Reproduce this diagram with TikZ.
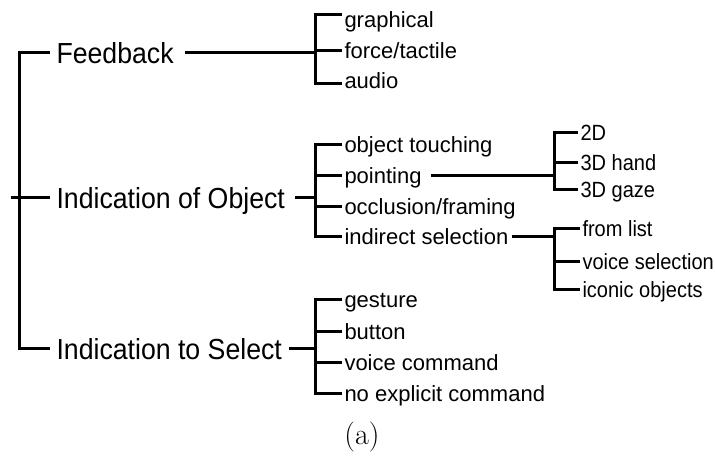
\documentclass[tikz,border=0pt]{standalone}
\usepackage{fontspec}
\newfontfamily\helv{Liberation Sans}
\newfontfamily\helvbig[FakeStretch=0.92]{Liberation Sans}
\newfontfamily\helvnarrow[FakeStretch=0.91]{Liberation Sans}
\begin{document}
\begin{tikzpicture}[x=1pt,y=-1pt,line width=3pt,line join=miter,
  bigtext/.style={font=\helvbig\fontsize{29}{34}\selectfont,inner xsep=5pt,inner ysep=0pt,text height=24pt,text depth=2pt,anchor=west},
  leaf/.style={font=\helv\fontsize{22}{26}\selectfont,inner xsep=1pt,inner ysep=0pt,text height=16pt,text depth=0pt,anchor=west},
  subleaf/.style={leaf,font=\helvnarrow\fontsize{22}{26}\selectfont},
  capt/.style={font=\rmfamily\fontsize{30}{36}\selectfont,inner sep=0pt}]
\fill[white] (0,0) rectangle (715,458);
\useasboundingbox (0,0) rectangle (715,458);
% bracket x positions
\coordinate (r) at (19,0);
\coordinate (b1) at (315,0);
\coordinate (b2) at (554,0);
\coordinate (rl) at (11,197);
% top level
\node[bigtext] (fb) at (50,52) {Feedback};
\node[bigtext] (io) at (50,197) {Indication of Object};
\node[bigtext] (is) at (50,348) {Indication to Select};
% feedback leaves
\node[leaf] (gr) at (342,19) {graphical};
\node[leaf] (ft) at (342,50) {force/tactile};
\node[leaf] (au) at (342,80) {audio};
% object leaves
\node[leaf] (ot) at (342,144) {object touching};
\node[leaf] (pt) at (342,175) {pointing};
\node[leaf] (oc) at (342,206) {occlusion/framing};
\node[leaf] (id) at (342,236) {indirect selection};
% pointing leaves
\node[subleaf] (d2) at (578,132) {2D};
\node[subleaf] (dh) at (578,162) {3D hand};
\node[subleaf] (dg) at (578,189) {3D gaze};
% indirect leaves
\node[subleaf] (fl) at (580,228) {from list};
\node[subleaf] (vs) at (580,261) {voice selection};
\node[subleaf] (ic) at (580,289) {iconic objects};
% select leaves
\node[leaf] (ge) at (342,299) {gesture};
\node[leaf] (bu) at (342,331) {button};
\node[leaf] (vc) at (342,362) {voice command};
\node[leaf] (ne) at (342,393) {no explicit command};
% caption
\node[capt] (cap) at (362,437) {(a)};
% root
\draw (fb.west) -- (fb.west -| r) -- (is.west -| r) -- (is.west);
\draw (io.west) -- (rl);
% feedback bracket
\coordinate (gt) at ([yshift=5pt]gr.west);
\coordinate (at) at ([yshift=-3pt]au.west);
\draw (gt) -- (gt -| b1) -- (at -| b1) -- (at);
\draw (ft.west) -- (ft.west -| b1);
\draw ([xshift=5pt]fb.east) -- (fb.east -| b1);
% object bracket
\draw (ot.west) -- (ot.west -| b1) -- (id.west -| b1) -- (id.west);
\draw (pt.west) -- (pt.west -| b1);
\draw (oc.west) -- (oc.west -| b1);
\draw ([xshift=4pt]io.east) -- (io.east -| b1);
% pointing bracket
\draw (d2.west) -- (d2.west -| b2) -- (dg.west -| b2) -- (dg.west);
\draw (dh.west) -- (dh.west -| b2);
\draw ([xshift=7pt]pt.east) -- (pt.east -| b2);
% indirect bracket
\draw (fl.west) -- (fl.west -| b2) -- (ic.west -| b2) -- (ic.west);
\draw (vs.west) -- (vs.west -| b2);
\draw ([xshift=1pt]id.east) -- (id.east -| b2);
% select bracket
\draw (ge.west) -- (ge.west -| b1) -- (ne.west -| b1) -- (ne.west);
\draw (bu.west) -- (bu.west -| b1);
\draw (vc.west) -- (vc.west -| b1);
\draw ([xshift=1pt]is.east) -- (is.east -| b1);
\end{tikzpicture}
\end{document}
